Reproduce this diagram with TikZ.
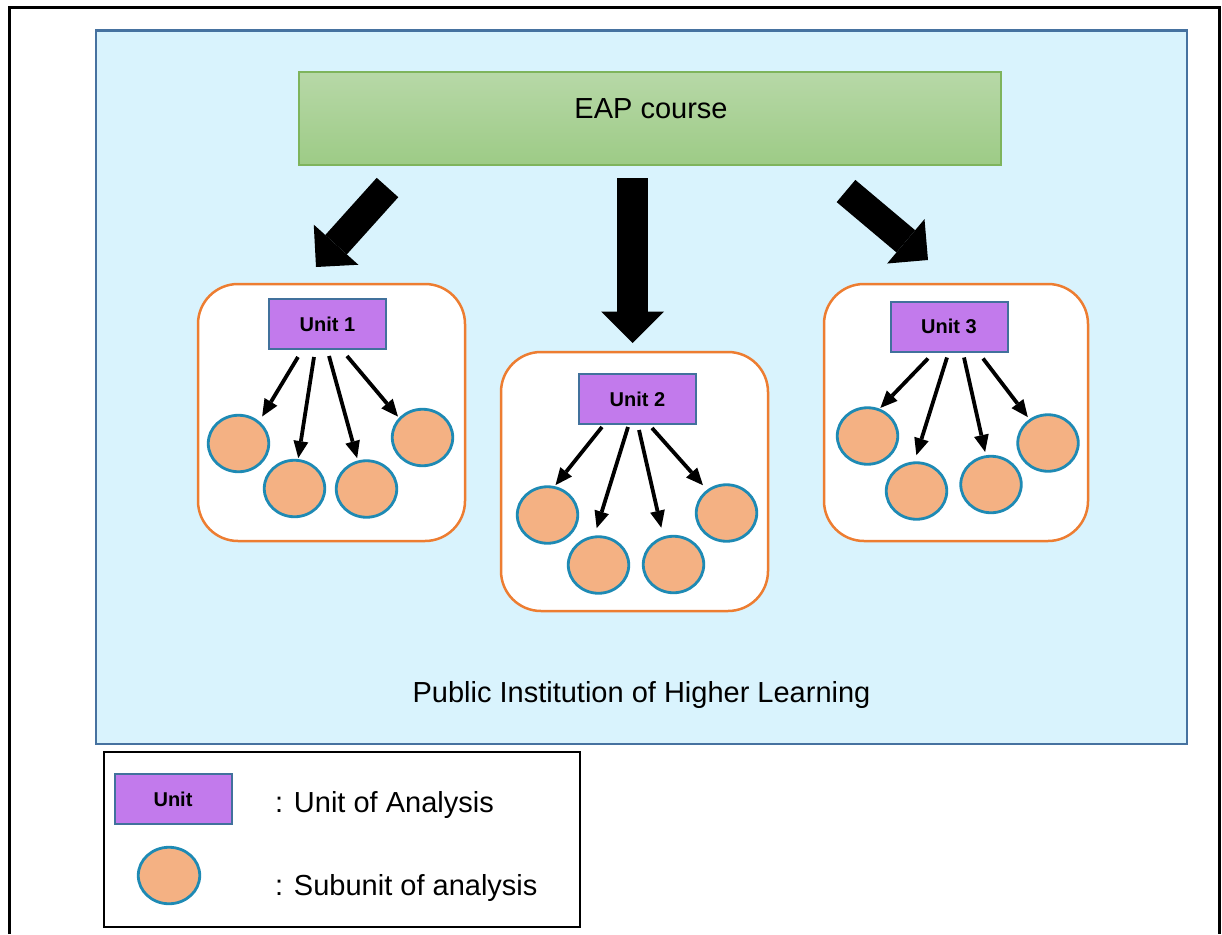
\documentclass[tikz,border=0pt]{standalone}
\usepackage{fontspec}
\setmainfont{Liberation Sans}
\usetikzlibrary{arrows.meta,shapes.geometric}

\definecolor{bgblue}{RGB}{217,243,253}
\definecolor{frameblue}{RGB}{70,114,160}
\definecolor{unitfill}{RGB}{194,122,236}
\definecolor{unitdraw}{RGB}{65,113,156}
\definecolor{subfill}{RGB}{244,177,131}
\definecolor{subdraw}{RGB}{30,138,180}
\definecolor{contdraw}{RGB}{237,125,49}
\definecolor{eaptop}{RGB}{183,216,167}
\definecolor{eapbot}{RGB}{157,203,134}
\definecolor{eapdraw}{RGB}{126,180,92}

\begin{document}
\begin{tikzpicture}[x=1pt,y=-1pt,
  unitbox/.style={draw=unitdraw,fill=unitfill,line width=2pt,minimum width=117pt,minimum height=50pt,inner sep=0pt,font=\fontsize{20}{24}\selectfont\bfseries},
  subunit/.style={ellipse,draw=subdraw,fill=subfill,line width=2.8pt,minimum width=60.5pt,minimum height=56.5pt,inner sep=0pt},
  container/.style={draw=contdraw,fill=white,line width=2.5pt,rounded corners=40pt,inner sep=0pt},
  subarrow/.style={line width=3.8pt,-{Triangle[length=17pt,width=15pt,line width=0pt]}},
  bigarrow/.style={-{Triangle[length=#1pt,width=2*#1pt,line width=0pt]}},
  txt/.style={font=\fontsize{29}{34}\selectfont,inner sep=0pt}
]
\useasboundingbox (0,0) rectangle (1222,934);

% outer frame
\draw[line width=3pt] (9,934) -- (9,8) -- (1219,8) -- (1219,934);

% institution box
\node[draw=frameblue,fill=bgblue,line width=2.5pt,minimum width=1091pt,minimum height=713.5pt,inner sep=0pt] (inst) at (641.5,387.25) {};
\node[txt,anchor=base] (insttext) at (641.5,702) {Public Institution of Higher Learning};

% EAP course
\node[draw=eapdraw,top color=eaptop,bottom color=eapbot,line width=1.5pt,minimum width=702pt,minimum height=93pt,inner sep=0pt] (eap) at (650,118.5) {};
\node[txt,anchor=base] (eaptext) at (651,118) {EAP course};

% big arrows
\coordinate (b1s) at (387.5,187.5);
\coordinate (b1e) at (316,267);
\coordinate (b2s) at (632.5,178);
\coordinate (b2e) at (632.5,343);
\coordinate (b3s) at (846,191);
\coordinate (b3e) at (928,260);
\draw[line width=29pt,bigarrow=30] (b1s) -- (b1e);
\draw[line width=31pt,bigarrow=31.5] (b2s) -- (b2e);
\draw[line width=29pt,bigarrow=29] (b3s) -- (b3e);

% containers
\node[container,minimum width=267pt,minimum height=257pt] (k1) at (331.5,412.5) {};
\node[container,minimum width=267pt,minimum height=259pt] (k2) at (634.5,481.5) {};
\node[container,minimum width=264pt,minimum height=257pt] (k3) at (956,412.5) {};

% units
\node[unitbox] (u1) at (327.5,324) {Unit 1};
\node[unitbox] (u2) at (637.5,399) {Unit 2};
\node[unitbox] (u3) at (949,326.5) {Unit 3};

% subunits of unit 1
\node[subunit] (s11) at (238.5,443.5) {};
\node[subunit] (s12) at (294.5,488.5) {};
\node[subunit] (s13) at (366.5,489) {};
\node[subunit] (s14) at (422.5,437.5) {};
% subunits of unit 2
\node[subunit] (s21) at (547.5,515) {};
\node[subunit] (s22) at (598.5,565) {};
\node[subunit] (s23) at (673.5,564.5) {};
\node[subunit] (s24) at (726.5,513) {};
% subunits of unit 3
\node[subunit] (s31) at (867.5,436) {};
\node[subunit] (s32) at (916.5,491) {};
\node[subunit] (s33) at (991,484.5) {};
\node[subunit] (s34) at (1048,443) {};

% arrows unit 1
\draw[subarrow,shorten >=5.5pt] ([shift={(-29.5,7)}]u1.south) -- (s11.47);
\draw[subarrow,shorten >=1pt] ([shift={(-13.5,7)}]u1.south) -- (s12.83);
\draw[subarrow,shorten >=2.5pt] ([shift={(1.5,6)}]u1.south) -- (s13.107);
\draw[subarrow,shorten >=1.5pt] ([shift={(19.5,6)}]u1.south) -- (s14.140);
% arrows unit 2
\draw[subarrow,shorten >=1.3pt] ([shift={(-35.5,2)}]u2.south) -- (s21.76);
\draw[subarrow,shorten >=7.8pt] ([shift={(-9.5,2)}]u2.south) -- (s22.98);
\draw[subarrow,shorten >=9pt] ([shift={(1.5,5)}]u2.south) -- (s23.110);
\draw[subarrow,shorten >=6pt] ([shift={(14.5,3)}]u2.south) -- (s24.130);
% arrows unit 3
\draw[subarrow,shorten >=1pt] ([shift={(-21,6)}]u3.south) -- (s31.66);
\draw[subarrow,shorten >=6.5pt] ([shift={(-2,5)}]u3.south) -- (s32.94);
\draw[subarrow,shorten >=3.4pt] ([shift={(15,5)}]u3.south) -- (s33.100);
\draw[subarrow,shorten >=2.5pt] ([shift={(34,6)}]u3.south) -- (s34.128);

% legend
\node[draw=black,line width=2pt,minimum width=476pt,minimum height=175pt,inner sep=0pt] (legend) at (342,839.5) {};
\node[unitbox] (lunit) at (173,799) {Unit};
\node[subunit,minimum width=61.5pt,minimum height=56.5pt] (lsub) at (169,875.5) {};
\node[txt,anchor=base west] (ltext1) at (275,812) {: Unit of Analysis};
\node[txt,anchor=base west] (ltext2) at (275,895) {: Subunit of analysis};
\end{tikzpicture}
\end{document}
